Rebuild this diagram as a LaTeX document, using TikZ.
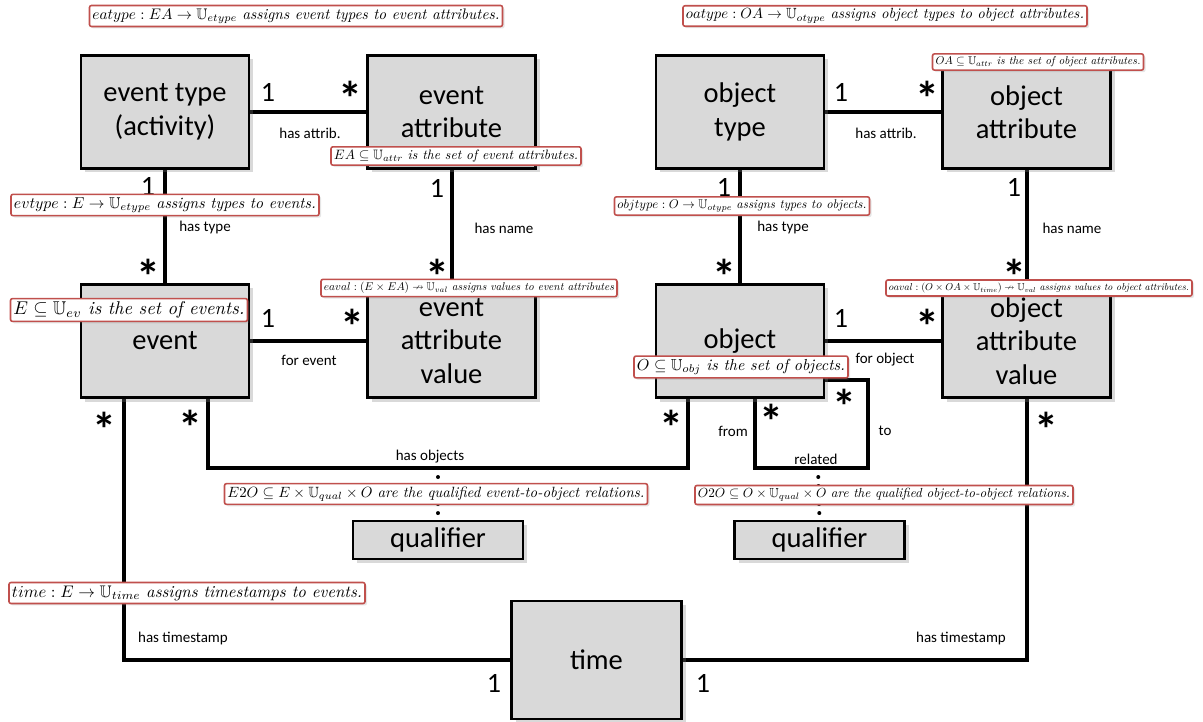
\documentclass[tikz,border=0pt]{standalone}
\usepackage{amssymb}
\usepackage{fontspec}
\newfontfamily\calibfont{Carlito}
\usetikzlibrary{shadows,backgrounds}
\definecolor{boxgray}{HTML}{D9D9D9}
\definecolor{notered}{HTML}{C0504D}
\begin{document}
\begin{tikzpicture}[x=1pt, y=-1pt,
  entity/.style={draw=black, line width=2.6pt, fill=boxgray,
    minimum width=168pt, minimum height=113pt, inner sep=0pt, align=center,
    font=\calibfont\fontsize{28.5}{33.5}\selectfont,
    drop shadow={opacity=0.3, shadow xshift=4pt, shadow yshift=-4pt}},
  link/.style={line width=4pt},
  qlink/.style={line width=4pt, line cap=round, dash pattern=on 0.01pt off 9pt},
  role/.style={font=\calibfont\fontsize{15}{18}\selectfont, inner sep=0pt},
  one/.style={font=\calibfont\fontsize{28}{30}\selectfont, inner sep=0pt},
  many/.style={font=\calibfont\bfseries\fontsize{48}{48}\selectfont, inner sep=0pt, anchor=base, yshift=-26pt},
  note/.style={draw=notered, line width=1.6pt, fill=white, rounded corners=2pt,
    inner sep=3pt, drop shadow={opacity=0.2, shadow xshift=2pt, shadow yshift=-2pt}}]
\useasboundingbox (0,0) rectangle (1203,722);

% entities
\node[entity] (et)  at (165,112)   {event type\\(activity)};
\node[entity] (ea)  at (451.5,112) {event\\attribute};
\node[entity] (ot)  at (740,112)   {object\\type};
\node[entity] (oa)  at (1026.5,112){object\\attribute};
\node[entity] (ev)  at (165,341)   {event};
\node[entity] (eav) at (451.5,341) {event\\attribute\\value};
\node[entity] (ob)  at (740,341)   {object};
\node[entity] (oav) at (1026.5,341){object\\attribute\\value};
\node[entity, minimum width=170pt, minimum height=38pt] (q1) at (438,540) {qualifier};
\node[entity, minimum width=170pt, minimum height=38pt] (q2) at (819.5,540) {qualifier};
\node[entity, minimum width=170pt, minimum height=118pt] (tm) at (596.5,660) {time};

% bend points of the routed relations
\coordinate (hoL) at (208,468);
\coordinate (hoR) at (688,468);
\coordinate (hoQ) at (438,468);
\coordinate (rL) at (755,468);
\coordinate (rR) at (868,468);
\coordinate (rT) at (868,380);
\coordinate (rQ) at (818,468);
\coordinate (tL) at (124,660);

\begin{scope}[on background layer]
  \draw[link] (et.east) -- (ea.west);
  \draw[link] (et.south) -- (ev.north);
  \draw[link] (ea.south) -- (eav.north);
  \draw[link] (ev.east) -- (eav.west);
  \draw[link] (ot.east) -- (oa.west);
  \draw[link] (ot.south) -- (ob.north);
  \draw[link] (oa.south) -- (oav.north);
  \draw[link] (ob.east) -- (oav.west);
  \draw[link] (ev.south -| hoL) -- (hoL) -- (hoR) -- (ob.south -| hoR);
  \draw[qlink] (hoQ) -- (q1.north);
  \draw[link] (ob.south -| rL) -- (rL) -- (rR) -- (rT) -- (ob.east |- rT);
  \draw[qlink] (rQ) -- (q2.north);
  \draw[link] (ev.south -| tL) |- (tm.west);
  \draw[link] (oav.south) |- (tm.east);
\end{scope}

% relation names
\node[role] (l1)  at (310,133) {has attrib.};
\node[role] (l2)  at (886,133) {has attrib.};
\node[role] (l3)  at (205,228) {has type};
\node[role] (l4)  at (783,228) {has type};
\node[role] (l5)  at (504,228) {has name};
\node[role] (l6)  at (1072,228) {has name};
\node[role] (l7)  at (309,360) {for event};
\node[role] (l8)  at (885,360) {for object};
\node[role] (l9)  at (430,457) {has objects};
\node[role] (l10) at (733,431) {from};
\node[role] (l11) at (885,431) {to};
\node[role] (l12) at (816,459) {related};
\node[role] (l13) at (183,638) {has timestamp};
\node[role] (l14) at (961,638) {has timestamp};

% multiplicities
\node[one]  (m1)  at (268,92)  {1};
\node[many] (m2)  at (350,90)  {*};
\node[one]  (m3)  at (148,186) {1};
\node[many] (m4)  at (148,268) {*};
\node[one]  (m5)  at (437,188) {1};
\node[many] (m6)  at (437,268) {*};
\node[one]  (m7)  at (268,318) {1};
\node[many] (m8)  at (352,318) {*};
\node[one]  (m9)  at (841,92)  {1};
\node[many] (m10) at (927,90)  {*};
\node[one]  (m11) at (724,187) {1};
\node[many] (m12) at (724,268) {*};
\node[one]  (m13) at (1014,187){1};
\node[many] (m14) at (1014,268){*};
\node[one]  (m15) at (841,318) {1};
\node[many] (m16) at (927,318) {*};
\node[many] (m17) at (104,420) {*};
\node[many] (m18) at (190,418) {*};
\node[many] (m19) at (671,418) {*};
\node[many] (m20) at (771,412) {*};
\node[many] (m21) at (844,397) {*};
\node[many] (m22) at (1046,420){*};
\node[one]  (m23) at (494,683) {1};
\node[one]  (m24) at (703,683) {1};

% formal definitions
\node[note] (n1)  at (296,16)   {\resizebox{407pt}{!}{$eatype: EA \rightarrow \mathbb{U}_{etype}$ \textit{assigns event types to event attributes.}}};
\node[note] (n2)  at (885,16)   {\resizebox{398pt}{!}{$oatype: OA \rightarrow \mathbb{U}_{otype}$ \textit{assigns object types to object attributes.}}};
\node[note] (n3)  at (456,156)  {\resizebox{244pt}{!}{$EA \subseteq \mathbb{U}_{attr}$ \textit{is the set of event attributes.}}};
\node[note] (n4)  at (1038,62)  {\resizebox{205pt}{!}{$OA \subseteq \mathbb{U}_{attr}$ \textit{is the set of object attributes.}}};
\node[note] (n5)  at (165,205)  {\resizebox{302pt}{!}{$evtype: E \rightarrow \mathbb{U}_{etype}$ \textit{assigns types to events.}}};
\node[note] (n6)  at (742,206)  {\resizebox{249pt}{!}{$objtype: O \rightarrow \mathbb{U}_{otype}$ \textit{assigns types to objects.}}};
\node[note] (n7)  at (469,288)  {\resizebox{290pt}{!}{$eaval: (E \times EA) \nrightarrow \mathbb{U}_{val}$ \textit{assigns values to event attributes}}};
\node[note] (n8)  at (1039,288) {\resizebox{300pt}{!}{$oaval: (O \times OA \times \mathbb{U}_{time}) \nrightarrow \mathbb{U}_{val}$ \textit{assigns values to object attributes.}}};
\node[note] (n9)  at (129,310)  {\resizebox{231pt}{!}{$E \subseteq \mathbb{U}_{ev}$ \textit{is the set of events.}}};
\node[note] (n10) at (741,367)  {\resizebox{208pt}{!}{$O \subseteq \mathbb{U}_{obj}$ \textit{is the set of objects.}}};
\node[note] (n11) at (436,494)  {\resizebox{417pt}{!}{$E2O \subseteq E \times \mathbb{U}_{qual} \times O$ \textit{are the qualified event-to-object relations.}}};
\node[note] (n12) at (884,495)  {\resizebox{372pt}{!}{$O2O \subseteq O \times \mathbb{U}_{qual} \times O$ \textit{are the qualified object-to-object relations.}}};
\node[note] (n13) at (187,593)  {\resizebox{350pt}{!}{$time: E \rightarrow \mathbb{U}_{time}$ \textit{assigns timestamps to events.}}};
\end{tikzpicture}
\end{document}
